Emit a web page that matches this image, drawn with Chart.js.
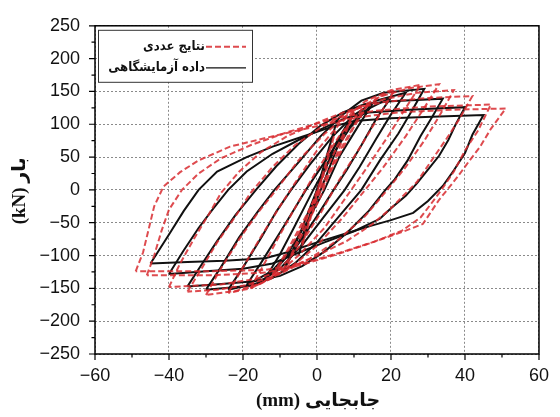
<!DOCTYPE html>
<html>
<head>
<meta charset="utf-8">
<script src="https://cdn.jsdelivr.net/npm/chart.js@4.4.0/dist/chart.umd.min.js"></script>
<style>
  html, body { margin: 0; padding: 0; background: #fff; }
</style>
</head>
<body>
<canvas id="c" width="560" height="417"></canvas>
<script>
// Axis titles and legend labels
const xTitle = 'جابجایی (mm)';
const yTitle = 'بار (kN)';
const numLabel = 'نتایج عددی';
const expLabel = 'داده آزمایشگاهی';

// Experimental loops (black), [displacement mm, load kN]
const exp1 = [[-5,-100],[-1,-22],[5,98],[1,20],[-5,-100]];
const exp2 = [[-9,-122],[-5,-72],[0,0],[5,70],[10,118],[6,72],[1,0],[-4,-70],[-9,-122]];
const exp3 = [[-14,-135],[-10,-98],[-6,-55],[-1,0],[4,52],[9,95],[15,131],[11,96],[6,50],[2,0],[-3,-52],[-8,-98],[-14,-135]];
const exp4 = [[-19,-145],[-15,-110],[-10,-65],[-6,-28],[-3,0],[2,42],[7,84],[12,118],[20,141],[16,108],[12,68],[8,30],[4.5,0],[0,-40],[-5,-82],[-11,-120],[-19,-145]];
const exp5 = [[-24,-152],[-20,-118],[-15,-72],[-11,-33],[-7,0],[-2,38],[4,80],[10,114],[16,136],[24,148],[20,115],[16,78],[11.5,35],[7.5,0],[2,-40],[-4,-84],[-10,-120],[-16,-142],[-24,-152]];
const exp6 = [[-30,-152],[-26,-118],[-21,-72],[-16,-33],[-11.5,0],[-5,42],[1,82],[7,115],[12,136],[18,148],[29,154],[26,124],[22,86],[17,45],[12,0],[6,-40],[0,-80],[-6,-112],[-12,-134],[-18,-146],[-30,-152]];
const exp7 = [[-35,-147],[-31,-112],[-27,-78],[-22,-38],[-16.5,0],[-11,36],[-5,70],[1,98],[7,118],[13,131],[20,135],[34,139],[31,110],[28,82],[24.5,45],[21,16],[18.5,0],[14,-32],[8,-66],[2,-94],[-4,-116],[-10,-131],[-17,-139],[-25,-143],[-35,-147]];
const exp8 = [[-40,-128],[-36,-92],[-32,-58],[-28,-28],[-24,0],[-19,28],[-12,55],[-5,76],[2,95],[8,110],[14,118],[25,122],[40,126],[37.5,100],[35.5,76],[33,52],[30,31],[27,10],[24,-9],[20,-28],[17,-44],[10,-63],[2,-80],[-6,-98],[-12,-112],[-20,-120],[-30,-124],[-40,-128]];
const exp9 = [[-45,-112],[-40,-68],[-36,-32],[-32,0],[-27,28],[-19,50],[-12,66],[-4,81],[4,96],[10,105],[20,109],[33,112],[45,114],[42,84],[40,56],[37,30],[34,6],[30,-17],[26,-35],[20,-46],[15,-54],[8,-66],[0,-80],[-8,-95],[-14,-104],[-25,-108],[-35,-110],[-45,-112]];

// Numerical loops (red dashed)
const num1 = [[-4,-85],[0,-5],[5,90],[1,8],[-4,-85]];
const num2 = [[-8,-112],[-4,-68],[1,-10],[5,50],[10,118],[6,72],[1,14],[-3,-48],[-8,-112]];
const num3 = [[-12,-130],[-8,-92],[-3,-40],[2,15],[7,68],[11,108],[14,132],[10,96],[5,42],[0,-12],[-5,-66],[-9,-105],[-12,-130]];
const num4 = [[-18,-150],[-14,-110],[-10,-68],[-5,-18],[0,30],[6,82],[12,122],[17,142],[21,152],[17,115],[12,68],[6,15],[1,-35],[-5,-88],[-11,-127],[-15,-142],[-18,-150]];
const num5 = [[-24,-157],[-20,-118],[-15,-70],[-10,-25],[-6,10],[0,60],[6,100],[13,135],[20,152],[28,160],[24,125],[19,80],[13,30],[8,-10],[2,-58],[-5,-100],[-12,-134],[-18,-150],[-24,-157]];
const num6 = [[-30,-160],[-26,-120],[-21,-75],[-16,-35],[-11,0],[-5,45],[2,85],[9,118],[17,142],[25,155],[33,161],[29,125],[24,82],[18,35],[13,0],[7,-42],[0,-85],[-7,-118],[-15,-142],[-22,-154],[-30,-160]];
const num7 = [[-35,-155],[-31,-118],[-27,-80],[-22,-40],[-18,-5],[-12,35],[-6,68],[1,95],[9,120],[18,138],[27,148],[37,152],[33,112],[29,75],[24,35],[19,0],[13,-40],[6,-75],[-2,-105],[-10,-128],[-19,-145],[-27,-152],[-35,-155]];
const num8 = [[-40,-148],[-37,-112],[-33,-72],[-29,-35],[-26,-5],[-21,28],[-15,58],[-8,82],[0,102],[8,120],[18,134],[30,140],[42,143],[38.5,108],[35,78],[31,45],[27,12],[24,-5],[20,-28],[15,-52],[8,-78],[0,-100],[-8,-120],[-16,-135],[-26,-144],[-40,-148]];
const num9 = [[-46,-130],[-44,-100],[-42,-62],[-40,-30],[-36.5,0],[-32,25],[-26,48],[-18,68],[-8,88],[3,106],[15,120],[30,127],[47,130],[43.5,90],[40,60],[37,28],[34,3],[31,-20],[28,-42],[23,-62],[15,-80],[6,-97],[-4,-114],[-14,-126],[-28,-130],[-46,-130]];
const num10 = [[-49,-124],[-47,-95],[-45.5,-60],[-44,-25],[-41.5,5],[-37,27],[-32,45],[-27.5,56],[-23.5,66],[-11,83],[0,97],[10,110],[22,118],[36,122],[51,124],[47,93],[44,65],[41,43],[38,20],[35.6,3],[33,-15],[31,-32],[28.6,-52],[24,-62],[16,-78],[6,-96],[-4,-112],[-14,-122],[-30,-124],[-49,-124]];

const expLoops = [exp1, exp2, exp3, exp4, exp5, exp6, exp7, exp8, exp9];
const numLoops = [num1, num2, num3, num4, num5, num6, num7, num8, num9, num10];

const expColor = '#111';
const numColor = 'rgba(216,44,48,0.85)';

const toPoints = (loop) => loop.map(([x, y]) => ({ x, y }));

const datasets = [];
numLoops.forEach((loop) => {
  datasets.push({
    label: numLabel,
    data: toPoints(loop),
    showLine: true,
    borderColor: numColor,
    borderWidth: 2,
    borderDash: [6, 3],
    pointRadius: 0,
    order: 1,
  });
});
expLoops.forEach((loop) => {
  datasets.push({
    label: expLabel,
    data: toPoints(loop),
    showLine: true,
    borderColor: expColor,
    borderWidth: 2,
    pointRadius: 0,
    order: 2,
  });
});

const tickFont = { family: "'Liberation Sans', Arial, sans-serif", size: 18 };
const minus = (v) => String(v).replace('-', '\u2212');

// frame, ticks, titles and the boxed legend
const decor = {
  id: 'decor',
  afterDraw(chart) {
    const { ctx, chartArea: a, scales: { x, y } } = chart;
    ctx.save();

    // frame
    ctx.strokeStyle = '#000';
    ctx.lineWidth = 1.5;
    ctx.strokeRect(a.left, a.top, a.right - a.left, a.bottom - a.top);

    // major + minor ticks (outward)
    ctx.lineWidth = 1.2;
    ctx.beginPath();
    const xt = x.ticks.map((t) => t.value);
    xt.forEach((v, i) => {
      const px = x.getPixelForValue(v);
      ctx.moveTo(px, a.bottom); ctx.lineTo(px, a.bottom + 6);
      if (i < xt.length - 1) {
        const m = x.getPixelForValue((v + xt[i + 1]) / 2);
        ctx.moveTo(m, a.bottom); ctx.lineTo(m, a.bottom + 3.5);
      }
    });
    const yt = y.ticks.map((t) => t.value);
    yt.forEach((v, i) => {
      const py = y.getPixelForValue(v);
      ctx.moveTo(a.left, py); ctx.lineTo(a.left - 6, py);
      if (i < yt.length - 1) {
        const m = y.getPixelForValue((v + yt[i + 1]) / 2);
        ctx.moveTo(a.left, m); ctx.lineTo(a.left - 3.5, m);
      }
    });
    ctx.stroke();

    // axis titles
    ctx.fillStyle = '#111';
    ctx.direction = 'rtl';
    ctx.textAlign = 'center';
    ctx.textBaseline = 'middle';
    ctx.font = "bold 19px 'Liberation Serif', 'DejaVu Sans', serif";
    ctx.fillText(xTitle, (a.left + a.right) / 2 + 1, 401);
    ctx.save();
    ctx.translate(20, (a.top + a.bottom) / 2 + 1);
    ctx.rotate(-Math.PI / 2);
    ctx.fillText(yTitle, 0, 0);
    ctx.restore();

    // legend box
    const lx = a.left + 3, ly = a.top + 4, lw = 154, lh = 52;
    ctx.fillStyle = '#fff';
    ctx.fillRect(lx, ly, lw, lh);
    ctx.strokeStyle = '#333';
    ctx.lineWidth = 1;
    ctx.strokeRect(lx + 0.5, ly + 0.5, lw, lh);

    const rows = [
      { text: numLabel, color: numColor, dash: [6, 3], y: ly + 17 },
      { text: expLabel, color: expColor, dash: [], y: ly + 38 },
    ];
    rows.forEach((r) => {
      ctx.strokeStyle = r.color;
      ctx.lineWidth = r.dash.length ? 2 : 1.2;
      ctx.setLineDash(r.dash);
      ctx.beginPath();
      ctx.moveTo(lx + 108, r.y);
      ctx.lineTo(lx + 148, r.y);
      ctx.stroke();
      ctx.setLineDash([]);
      ctx.fillStyle = '#111';
      ctx.textAlign = 'right';
      ctx.font = "bold 13px 'DejaVu Sans Condensed', 'DejaVu Sans', sans-serif";
      ctx.fillText(r.text, lx + 107, r.y);
    });

    ctx.restore();
  },
};

new Chart(document.getElementById('c'), {
  type: 'scatter',
  data: { datasets },
  options: {
    responsive: false,
    animation: false,
    layout: { padding: { top: 21, right: 11, left: 0, bottom: 0 } },
    plugins: {
      legend: { display: false },
      tooltip: { enabled: false },
    },
    scales: {
      x: {
        type: 'linear',
        min: -60,
        max: 60,
        ticks: { stepSize: 20, padding: 11, color: '#111', font: tickFont, callback: minus },
        grid: { color: '#8a8a8a', lineWidth: 1, drawTicks: false, borderDash: [2, 2] },
        border: { display: false, dash: [2, 2] },
        afterFit: (s) => { s.height = 63; },
      },
      y: {
        type: 'linear',
        min: -250,
        max: 250,
        ticks: { stepSize: 50, padding: 15, color: '#111', font: tickFont, callback: minus },
        grid: { color: '#8a8a8a', lineWidth: 1, drawTicks: false, borderDash: [2, 2] },
        border: { display: false, dash: [2, 2] },
        afterFit: (s) => { s.width = 95; },
      },
    },
  },
  plugins: [decor],
});
</script>
</body>
</html>
